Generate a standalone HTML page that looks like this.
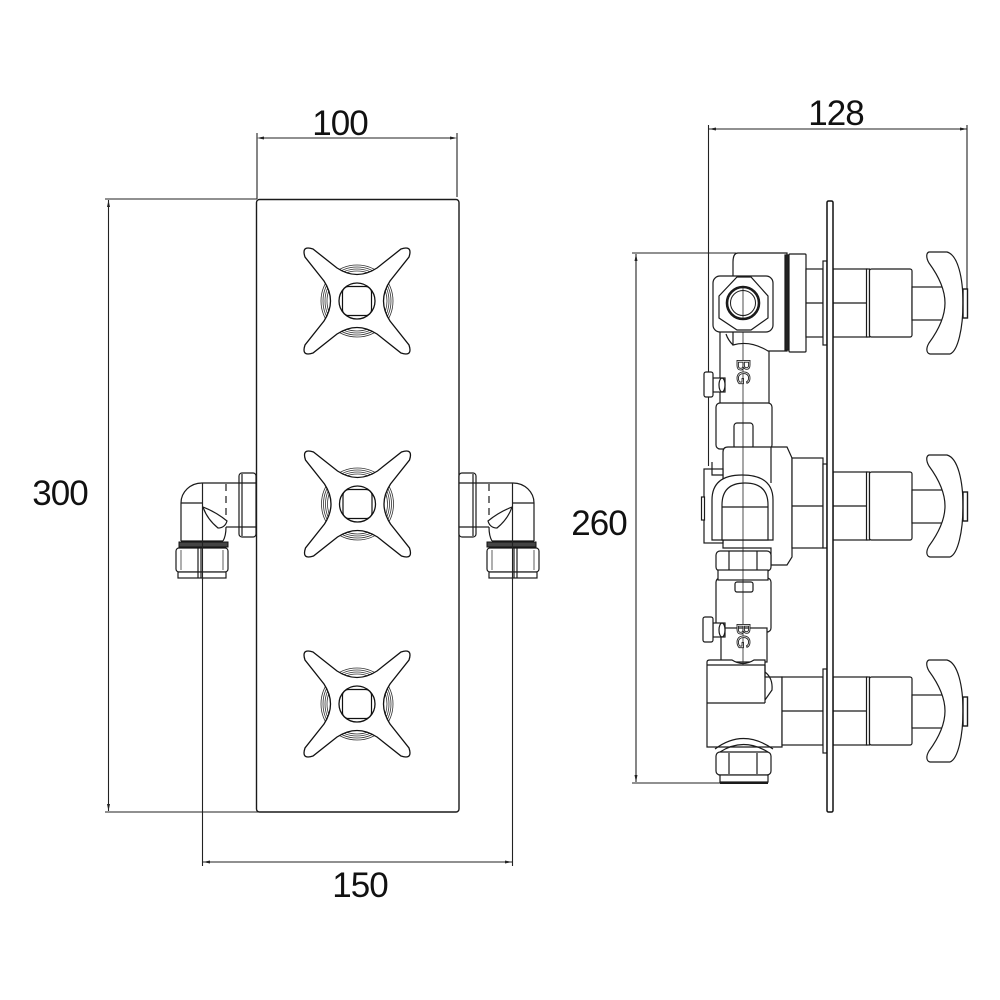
<!DOCTYPE html>
<html>
<head>
<meta charset="utf-8">
<style>
  html, body { margin: 0; padding: 0; background: #fff; }
  svg { display: block; }
  text { font-family: "Liberation Sans", "DejaVu Sans", sans-serif; }
</style>
</head>
<body>
<svg width="1000" height="1000" viewBox="0 0 1000 1000" xmlns="http://www.w3.org/2000/svg">
<defs>
  <g id="cross">
    <g fill="none" stroke="#333" stroke-width="0.8">
      <circle r="30"/><circle r="32"/><circle r="34"/><circle r="36"/>
    </g>
    <path d="M -44,-52 L -20,-33 Q 0,-20 20,-33 L 44,-52 Q 56,-56 52,-44 L 33,-20 Q 20,0 33,20 L 52,44 Q 56,56 44,52 L 20,33 Q 0,20 -20,33 L -44,52 Q -56,56 -52,44 L -33,20 Q -20,0 -33,-20 L -52,-44 Q -56,-56 -44,-52 Z" fill="#fff" stroke="#111" stroke-width="1.3"/>
    <circle r="18" fill="#fff" stroke="#111" stroke-width="1.3"/>
    <rect x="-14.5" y="-14.5" width="29" height="29" rx="6" fill="none" stroke="#111" stroke-width="1.2"/>
  </g>

  <g id="elbow" fill="none" stroke="#1a1a1a" stroke-width="1.2">
    <rect x="239" y="473" width="17" height="64" rx="3" fill="#fff"/>
    <line x1="242" y1="474" x2="242" y2="536"/>
    <line x1="239" y1="483" x2="256" y2="483"/>
    <line x1="239" y1="527" x2="256" y2="527"/>
    <line x1="202" y1="483" x2="239" y2="483"/>
    <line x1="226" y1="527" x2="239" y2="527"/>
    <path d="M 181,541 L 181,503 A 21 20 0 0 1 202,483"/>
    <path d="M 226,527 Q 226,536 223,541"/>
    <line x1="181" y1="541" x2="223" y2="541"/>
    <line x1="181" y1="503" x2="202" y2="503"/>
    <path d="M 203,507 Q 216,512 227,521 Q 225,528 218,528 Q 207,519 203,507 Z"/>
    <line x1="226" y1="484" x2="226" y2="520" stroke-dasharray="7,5"/>
    <rect x="179" y="542" width="49" height="5" fill="#444" stroke="#111" stroke-width="1"/>
    <rect x="176" y="548" width="52" height="24" rx="3" fill="#fff"/>
    <rect x="178" y="572" width="48" height="6" fill="#fff"/>
    <line x1="198" y1="548" x2="198" y2="578"/>
    <line x1="201" y1="548" x2="201" y2="578"/>
    <line x1="181" y1="550" x2="181" y2="570" stroke-width="0.7"/>
    <line x1="223" y1="550" x2="223" y2="570" stroke-width="0.7"/>
  </g>

  <g id="handle" fill="#fff" stroke="#1a1a1a" stroke-width="1.2">
    <rect x="833" y="-34" width="34" height="68"/>
    <rect x="866.5" y="-34" width="3" height="68"/>
    <rect x="869.5" y="-34" width="42.5" height="68" rx="2"/>
    <line x1="833" y1="0" x2="867" y2="0"/>
    <rect x="912" y="-16" width="34" height="33"/>
    <path d="M 929,-51 L 947,-51 C 958,-48 963,-25 963,0 C 963,25 958,48 950,51 L 930,51 C 926,50 926,45 929,40 C 940,25 945,12 945,0 C 945,-12 940,-25 929,-40 C 926,-45 926,-50 929,-51 Z"/>
    <rect x="963" y="-14" width="4.5" height="29" stroke-width="1.4"/>
    <rect x="823" y="-42" width="4" height="84"/>
  </g>
</defs>

<!-- ================= LEFT VIEW ================= -->
<g stroke="#222" stroke-width="1.1" fill="none">
  <line x1="257" y1="133" x2="257" y2="199"/>
  <line x1="457" y1="133" x2="457" y2="197"/>
  <line x1="262" y1="138" x2="452" y2="138"/>
  <path d="M257,138 L264,136.5 L264,139.5 Z" fill="#222" stroke="none"/>
  <path d="M457,138 L450,136.5 L450,139.5 Z" fill="#222" stroke="none"/>

  <line x1="105" y1="199" x2="257" y2="199"/>
  <line x1="105" y1="812" x2="263" y2="812"/>
  <line x1="108.5" y1="200" x2="108.5" y2="811"/>
  <path d="M108.5,200 L107,207 L110,207 Z" fill="#222" stroke="none"/>
  <path d="M108.5,811 L107,804 L110,804 Z" fill="#222" stroke="none"/>

  <line x1="202.5" y1="483" x2="202.5" y2="866"/>
  <line x1="512.5" y1="483" x2="512.5" y2="866"/>
  <line x1="203" y1="862" x2="512" y2="862"/>
  <path d="M203,862 L210,860.5 L210,863.5 Z" fill="#222" stroke="none"/>
  <path d="M512,862 L505,860.5 L505,863.5 Z" fill="#222" stroke="none"/>
</g>

<rect x="256.5" y="199.5" width="202.5" height="612.5" rx="3" fill="#fff" stroke="#1a1a1a" stroke-width="1.4"/>

<use href="#cross" transform="translate(357,301)"/>
<use href="#cross" transform="translate(357.5,504)"/>
<use href="#cross" transform="translate(357,704)"/>

<use href="#elbow"/>
<use href="#elbow" transform="translate(715,0) scale(-1,1)"/>
<line x1="202.5" y1="483" x2="202.5" y2="580" stroke="#222" stroke-width="1.1"/>
<line x1="512.5" y1="483" x2="512.5" y2="580" stroke="#222" stroke-width="1.1"/>

<text x="340" y="135" font-size="35" text-anchor="middle" fill="#111" letter-spacing="-1">100</text>
<text x="60" y="505" font-size="35" text-anchor="middle" fill="#111" letter-spacing="-1">300</text>
<text x="360" y="897" font-size="35" text-anchor="middle" fill="#111" letter-spacing="-1">150</text>

<!-- ================= RIGHT VIEW ================= -->
<g stroke="#222" stroke-width="1.1" fill="none">
  <line x1="708.5" y1="125" x2="708.5" y2="466"/>
  <line x1="967" y1="125" x2="967" y2="290"/>
  <line x1="709" y1="129" x2="967" y2="129"/>
  <path d="M709,129 L716,127.5 L716,130.5 Z" fill="#222" stroke="none"/>
  <path d="M967,129 L960,127.5 L960,130.5 Z" fill="#222" stroke="none"/>

  <line x1="632" y1="253" x2="736" y2="253"/>
  <line x1="632" y1="783" x2="722" y2="783"/>
  <line x1="636" y1="254" x2="636" y2="782"/>
  <path d="M636,254 L634.5,261 L637.5,261 Z" fill="#222" stroke="none"/>
  <path d="M636,782 L634.5,775 L637.5,775 Z" fill="#222" stroke="none"/>
</g>

<text x="836" y="125" font-size="35" text-anchor="middle" fill="#111" letter-spacing="-1">128</text>
<text x="599" y="535" font-size="35" text-anchor="middle" fill="#111" letter-spacing="-1">260</text>

<g fill="#fff" stroke="#1a1a1a" stroke-width="1.2">
  <rect x="720" y="330" width="49" height="75"/>
  <rect x="716" y="403" width="56" height="46" rx="4"/>
  <rect x="734" y="423" width="19" height="26" rx="3"/>
  <rect x="716" y="578" width="55" height="54" rx="4"/>
  <rect x="721" y="628" width="46" height="34"/>

  <!-- TOP VALVE -->
  <path d="M 738,253 L 787,253 L 787,351 L 768,351 Q 750,340 733,345 L 733,262 Q 733,253 738,253 Z"/>
  <rect x="713" y="276" width="60" height="56" rx="7"/>
  <polygon points="719,296 737,277 751,277 768,296 768,318 751,330 737,330 719,318"/>
  <circle cx="743" cy="303" r="16" stroke-width="2.6"/>
  <circle cx="743" cy="303" r="12.5" stroke-width="1"/>
  <rect x="785" y="255" width="4" height="95" fill="#222"/>
  <rect x="789" y="254" width="17" height="98" rx="1"/>
  <rect x="806" y="269" width="17" height="68"/>
  <line x1="806" y1="303" x2="823" y2="303"/>
  <path d="M 733,345 Q 728,340 726,334" fill="none"/>

  <rect x="713" y="378" width="12" height="14"/>
  <ellipse cx="722" cy="385" rx="3" ry="7"/>
  <rect x="704" y="372" width="9" height="25" rx="2"/>

  <!-- MIDDLE VALVE -->
  <path d="M 728,447 L 787,447 L 792,458 L 792,557 L 787,565 L 771,565 L 771,548 L 723,548 L 723,452 Q 723,447 728,447 Z"/>
  <rect x="792" y="458" width="31" height="90"/>
  <line x1="792" y1="506" x2="823" y2="506"/>
  <line x1="771" y1="447" x2="771" y2="483"/>
  <rect x="704" y="469" width="19" height="74"/>
  <rect x="701.5" y="497" width="3" height="23"/>
  <path d="M 712,540 L 712,500 Q 712,475 742,475 Q 773,475 773,500 L 773,540 Z"/>
  <path d="M 722,540 L 722,505 Q 722,483 745,483 Q 768,483 768,505 L 768,540 Z"/>
  <line x1="722" y1="507" x2="768" y2="507"/>
  <path d="M 712,462 L 712,475 L 723,475" fill="none"/>
  <rect x="716" y="551" width="55" height="20" rx="4"/>
  <line x1="729" y1="551" x2="729" y2="571"/>
  <line x1="757" y1="551" x2="757" y2="571"/>
  <rect x="718" y="570" width="50" height="10"/>
  <rect x="735" y="582" width="18" height="10" rx="2"/>

  <rect x="713" y="623" width="12" height="14"/>
  <ellipse cx="722" cy="630" rx="3" ry="7"/>
  <rect x="703" y="617" width="10" height="25" rx="2"/>

  <!-- LOWER VALVE -->
  <path d="M 707,662 Q 707,660 710,660 L 732,660 Q 743,667 754,660 L 765,660 L 765,677 L 782,677 L 782,747 L 707,747 Z"/>
  <line x1="707" y1="665" x2="765" y2="665"/>
  <line x1="765" y1="665" x2="765" y2="703"/>
  <line x1="707" y1="703" x2="765" y2="703"/>
  <path d="M 765,672 Q 773,678 772,690 L 765,700" fill="none"/>
  <rect x="782" y="677" width="41" height="68"/>
  <line x1="782" y1="711" x2="823" y2="711"/>
  <path d="M 715,749 Q 743,728 773,749" fill="none"/>
  <path d="M 720,752 Q 743,737 768,752" fill="none"/>
  <rect x="716" y="752" width="55" height="23" rx="4"/>
  <line x1="729" y1="753" x2="729" y2="774"/>
  <line x1="757" y1="753" x2="757" y2="774"/>
  <rect x="720" y="775" width="48" height="7"/>
  <line x1="720" y1="783" x2="768" y2="783" stroke-width="2"/>
</g>

<line x1="743" y1="287" x2="743" y2="318" stroke="#222" stroke-width="0.8"/>
<line x1="743" y1="332" x2="743" y2="665" stroke="#222" stroke-width="0.8"/>

<text transform="translate(743,372) rotate(90)" font-size="18" text-anchor="middle" dominant-baseline="central" fill="#fff" stroke="#222" stroke-width="0.9">BG</text>
<text transform="translate(743,636) rotate(90)" font-size="18" text-anchor="middle" dominant-baseline="central" fill="#fff" stroke="#222" stroke-width="0.9">BG</text>

<use href="#handle" transform="translate(0,303)"/>
<use href="#handle" transform="translate(0,506)"/>
<use href="#handle" transform="translate(0,711)"/>

<rect x="827" y="201" width="6" height="611" rx="1.5" fill="#fff" stroke="#111" stroke-width="1.5"/>
</svg>
</body>
</html>
